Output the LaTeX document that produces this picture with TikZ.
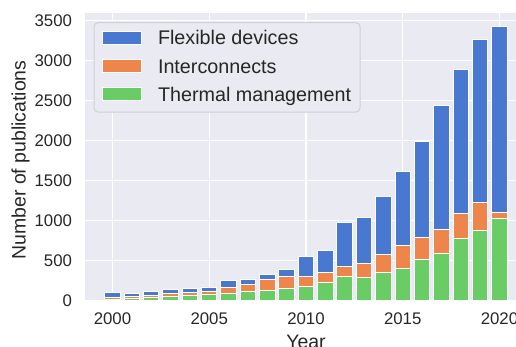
\documentclass[tikz,border=0pt]{standalone}
\usepackage{fontspec}
\setmainfont{Liberation Sans}
\usetikzlibrary{positioning}

\definecolor{bgcol}{HTML}{EAEAF2}
\definecolor{flexblue}{HTML}{4878D0}
\definecolor{interorange}{HTML}{EE854A}
\definecolor{thermgreen}{HTML}{6ACC64}
\definecolor{labelgray}{HTML}{262626}
\definecolor{legframe}{HTML}{CFCFD4}

\begin{document}
\begin{tikzpicture}[x=14.51pt, y=0.06pt,
    bar/.style={draw=white, line width=0.75pt},
    gridline/.style={white, line width=1.1pt},
    ticklabel/.style={text=labelgray, inner sep=0pt, font=\fontsize{12.6}{15}\selectfont},
    axislabel/.style={text=labelgray, inner sep=0pt, font=\fontsize{14.6}{17}\selectfont},
    legpatch/.style={draw=white, line width=0.5pt, minimum width=29.25pt, minimum height=9.75pt, inner sep=0pt},
    legtext/.style={text=labelgray, inner sep=0pt, anchor=west, text height=10.6pt, text depth=0pt, font=\fontsize{14.8}{17}\selectfont}]
    \useasboundingbox (-5.814,-566) rectangle (20.853,3759);

    \fill [bgcol] (-1.42,0) rectangle (20.853,3596);
    \foreach \v in {0,500,...,3500}
        \draw [gridline] (-1.42,\v) -- (20.853,\v);
    \foreach \t in {0,5,...,20}
        \draw [gridline] (\t,0) -- (\t,3596);

    % stacked bars: year offset / green top / orange top / blue top
    \foreach \i/\g/\o/\b in {0/15/40/100, 1/30/55/88, 2/42/67/117, 3/55/92/138,
        4/60/109/155, 5/80/117/171, 6/88/167/255, 7/113/200/267, 8/130/267/325,
        9/159/309/396, 10/184/309/555, 11/225/350/625, 12/309/425/975,
        13/292/471/1042, 14/359/584/1305, 15/405/688/1621, 16/521/792/1992,
        17/592/896/2437, 18/780/1096/2887, 19/880/1225/3267, 20/1025/1105/3425} {
        \filldraw [bar, fill=flexblue] (\i-0.4,\o) rectangle (\i+0.4,\b);
        \filldraw [bar, fill=interorange] (\i-0.4,\g) rectangle (\i+0.4,\o);
        \filldraw [bar, fill=thermgreen] (\i-0.4,0) rectangle (\i+0.4,\g);
    }

    \foreach \t/\yr in {0/2000, 5/2005, 10/2010, 15/2015, 20/2020}
        \node [ticklabel, anchor=north] (xt\t) at (\t,-141) {\yr};
    \foreach \v in {0,500,...,3500}
        \node [ticklabel, anchor=east] (yt\v) at (-2.078,\v) {\v};

    \node [axislabel, anchor=north] (xlab) at (10,-420) {Year};
    \node [axislabel, rotate=90] (ylab) at (-4.755,1759) {Number of publications};

    % legend
    \filldraw [draw=legframe, fill=bgcol, line width=0.75pt, rounded corners=3pt]
        (-0.956,2359) rectangle (12.791,3475);
    \node [legpatch, fill=flexblue] (patchflex) at (0.501,3288) {};
    \node [legpatch, fill=interorange] (patchinter) at (0.501,2934) {};
    \node [legpatch, fill=thermgreen] (patchtherm) at (0.501,2581) {};
    \node [legtext, right=11.8pt of patchflex] (textflex) {Flexible devices};
    \node [legtext, right=11.8pt of patchinter] (textinter) {Interconnects};
    \node [legtext, right=11.8pt of patchtherm] (texttherm) {Thermal management};

\end{tikzpicture}
\end{document}
